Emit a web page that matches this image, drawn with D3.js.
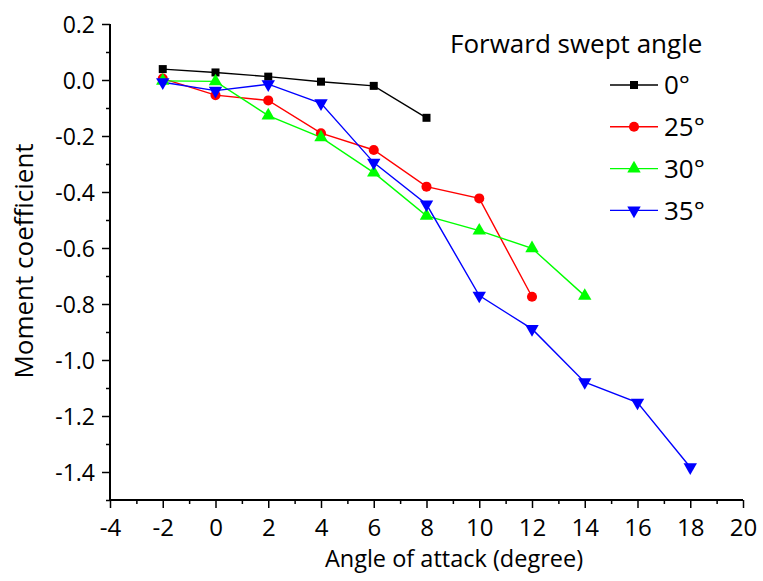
<!DOCTYPE html>
<html>
<head>
<meta charset="utf-8">
<script src="https://d3js.org/d3.v7.min.js"></script>
<style>
  body { margin: 0; background: #fff; }
  text { font-family: "Open Sans", sans-serif; fill: #000; }
</style>
</head>
<body>
<script>
// data
var angles = [-2, 0, 2, 4, 6, 8, 10, 12, 14, 16, 18];
var seriesNames = ["0°", "25°", "30°", "35°"];
var sweep0  = [0.039, 0.027, 0.012, -0.006, -0.021, -0.135];
var sweep25 = [0.005, -0.054, -0.073, -0.19, -0.25, -0.381, -0.423, -0.774];
var sweep30 = [-0.003, -0.005, -0.127, -0.205, -0.331, -0.485, -0.538, -0.601, -0.771];
var sweep35 = [-0.008, -0.038, -0.015, -0.083, -0.295, -0.444, -0.77, -0.889, -1.079, -1.152, -1.383];
var xTicks = [-4, -2, 0, 2, 4, 6, 8, 10, 12, 14, 16, 18, 20];
var xMinor = [-3, -1, 1, 3, 5, 7, 9, 11, 13, 15, 17, 19];
var yTicks = [0.2, 0.0, -0.2, -0.4, -0.6, -0.8, -1.0, -1.2, -1.4];
var yMinor = [0.1, -0.1, -0.3, -0.5, -0.7, -0.9, -1.1, -1.3, -1.5];

var colors = ["#000000", "#ff0000", "#00ff00", "#0000ff"];
var symbols = [d3.symbolSquare, d3.symbolCircle, d3.symbolTriangle, d3.symbolTriangle];
var symbolSizes = [64, 80, 78, 78];

var margin = {top: 24, right: 20, bottom: 81, left: 110},
    width = 763 - margin.left - margin.right,
    height = 581 - margin.top - margin.bottom;

var svg = d3.select("body").append("svg")
    .attr("width", 763)
    .attr("height", 581);

var g = svg.append("g")
    .attr("transform", "translate(" + margin.left + "," + margin.top + ")");

var x = d3.scaleLinear().domain([-4, 20]).range([0, 633]);
var y = d3.scaleLinear().domain([-1.5, 0.2]).range([height, 0]);

var allSeries = [sweep0, sweep25, sweep30, sweep35].map(function(vals, i) {
  return {
    name: seriesNames[i],
    color: colors[i],
    symbol: d3.symbol().type(symbols[i]).size(symbolSizes[i]),
    down: i == 3,
    points: vals.map(function(v, j) { return {a: angles[j], m: v}; })
  };
});

// minor ticks (no labels)
g.append("g")
    .attr("class", "minorx")
    .attr("transform", "translate(0," + height + ")")
    .call(d3.axisBottom(x).tickValues(xMinor).tickSize(4).tickSizeOuter(0).tickFormat(""));
g.append("g")
    .attr("class", "minory")
    .call(d3.axisLeft(y).tickValues(yMinor).tickSize(4).tickSizeOuter(0).tickFormat(""));

// major ticks
var xAxis = g.append("g")
    .attr("transform", "translate(0," + height + ")")
    .attr("class", "axisx")
    .call(d3.axisBottom(x).tickValues(xTicks).tickSize(8).tickSizeOuter(0)
      .tickFormat(function(d) { return String(d); }));

var yAxis = g.append("g")
    .attr("class", "axisy")
    .call(d3.axisLeft(y).tickValues(yTicks).tickSize(8).tickSizeOuter(0)
      .tickFormat(function(d) { return d3.format(".1f")(d).replace("−", "-"); }));

svg.selectAll(".domain").remove();
g.append("line").attr("x1", 0).attr("x2", width).attr("y1", height).attr("y2", height)
    .attr("stroke", "#000").attr("stroke-width", 2);
g.append("line").attr("x1", 0).attr("x2", 0).attr("y1", 0).attr("y2", height + 1)
    .attr("stroke", "#000").attr("stroke-width", 2);

svg.selectAll(".tick line").attr("stroke", "#000").attr("stroke-width", 1.5);
svg.selectAll(".tick text")
    .style("font-family", "'Open Sans', sans-serif")
    .style("font-size", "23px");
xAxis.selectAll(".tick text").style("font-size", "24px").attr("y", 36).attr("dy", 0);
yAxis.selectAll(".tick text").attr("x", -15).attr("dy", "0.36em");

// lines
var line = d3.line()
    .x(function(d) { return x(d.a); })
    .y(function(d) { return y(d.m); });

g.selectAll(".series")
    .data(allSeries)
    .enter().append("path")
    .attr("class", "series")
    .attr("fill", "none")
    .attr("stroke", function(d) { return d.color; })
    .attr("stroke-width", 1.4)
    .attr("d", function(d) { return line(d.points); });

allSeries.forEach(function(s) {
  g.selectAll(null)
      .data(s.points)
      .enter().append("path")
      .attr("d", s.symbol)
      .attr("fill", s.color)
      .attr("transform", function(d) {
        return "translate(" + x(d.a) + "," + y(d.m) + ")" + (s.down ? " rotate(180)" : "");
      });
});

// axis titles
svg.append("text")
    .attr("x", 454)
    .attr("y", 567)
    .attr("text-anchor", "middle")
    .style("font-size", "23.5px")
    .text("Angle of attack (degree)");

svg.append("text")
    .attr("transform", "translate(33,261) rotate(-90)")
    .attr("text-anchor", "middle")
    .style("font-size", "26px")
    .text("Moment coefficient");

// legend
var legend = svg.append("g").attr("class", "legend");
legend.append("text")
    .attr("x", 450)
    .attr("y", 53)
    .style("font-size", "26px")
    .text("Forward swept angle");

var items = legend.selectAll(".item")
    .data(allSeries)
    .enter().append("g")
    .attr("class", "item")
    .attr("transform", function(d, i) { return "translate(0," + (85 + i * 41.8) + ")"; });

items.append("line")
    .attr("x1", 610).attr("x2", 658)
    .attr("stroke", function(d) { return d.color; })
    .attr("stroke-width", 1.4);

items.append("path")
    .attr("d", function(d) { return d.symbol(); })
    .attr("fill", function(d) { return d.color; })
    .attr("transform", function(d) { return "translate(634,0)" + (d.down ? " rotate(180)" : ""); });

items.append("text")
    .attr("x", 664)
    .attr("dy", "0.36em")
    .style("font-size", "26px")
    .text(function(d) { return d.name; });
</script>
</body>
</html>
